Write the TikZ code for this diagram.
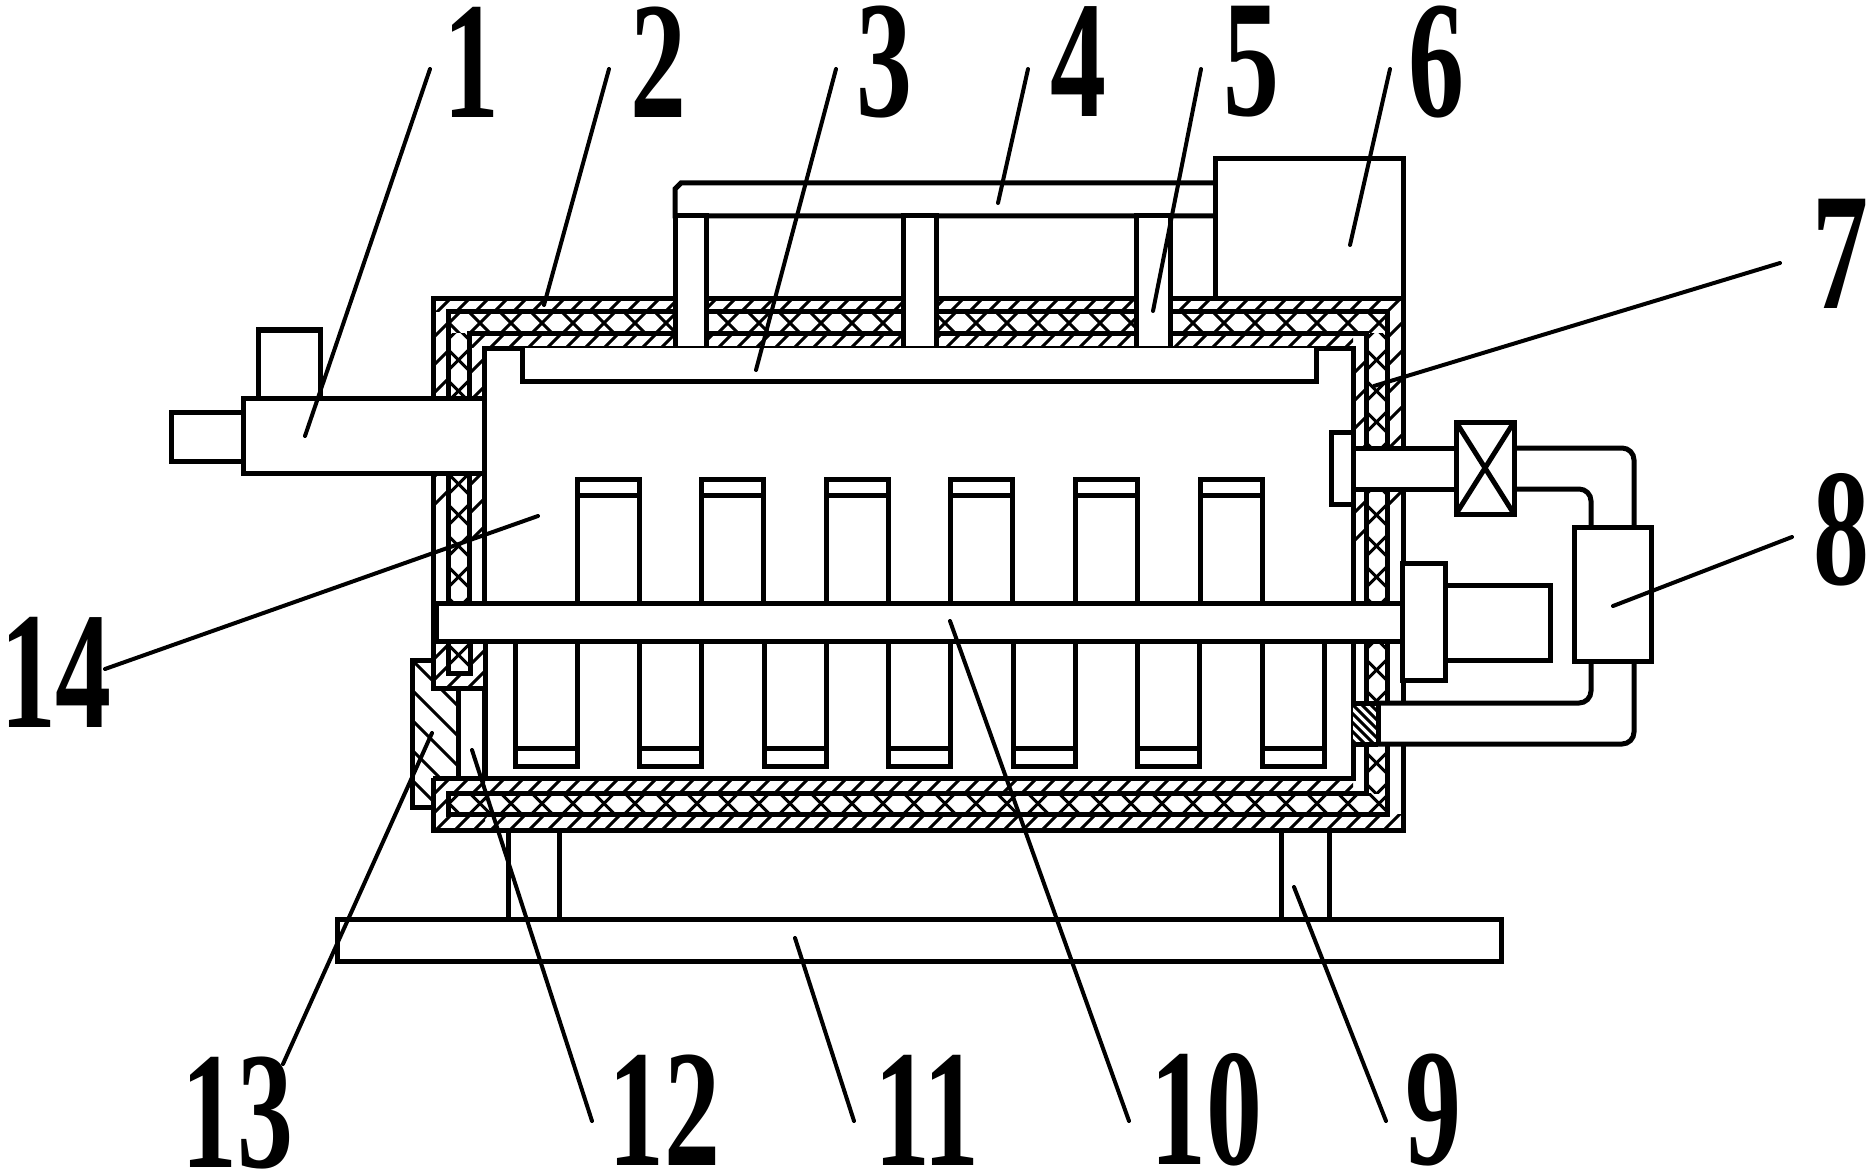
\documentclass[tikz,border=0pt]{standalone}
\usepackage{fontspec}
\setmainfont{Liberation Serif}
\newcommand{\hatchA}[5]{%
  \begin{scope}
    \clip (#1,#2) rectangle (#3,#4);
    \fill[white] (#1,#2) rectangle (#3,#4);
    \foreach \k in {0,...,110}{
      \draw[hatchline] ({#1+#5*\k},{#2-2}) -- ({#1+#5*\k-200},{#2+198});
    }
    \foreach \k in {1,...,30}{
      \draw[hatchline] ({#1},{#2+#5*\k}) -- ({#1-200},{#2+#5*\k+200});
    }
  \end{scope}}
\newcommand{\hatchB}[5]{%
  \begin{scope}
    \clip (#1,#2) rectangle (#3,#4);
    \fill[white] (#1,#2) rectangle (#3,#4);
    \foreach \k in {-20,...,20}{
      \draw[hatchline] ({#1+#5*\k-200},{#2-200}) -- ({#1+#5*\k+200},{#2+200});
    }
  \end{scope}}
\newcommand{\crossbox}[6]{%
  \begin{scope}
    \clip (#1,#2) rectangle (#3,#4);
    \fill[white] (#1,#2) rectangle (#3,#4);
    \foreach \k in {-32,...,32}{
      \draw[hatchline] ({#5+31*\k-600},{#6-600}) -- ({#5+31*\k+600},{#6+600});
      \draw[hatchline] ({#5+31*\k-600},{#6+600}) -- ({#5+31*\k+600},{#6-600});
    }
  \end{scope}}
\newcommand{\dg}[1]{\scalebox{0.67}[1]{#1}}
\tikzset{
  thick line/.style={line width=2.5pt,line join=miter},
  hatchline/.style={line width=1.5pt},
  body/.style={thick line,draw=black,fill=white},
  leader/.style={line width=2pt,draw=black,line cap=round},
  lbl/.style={inner sep=0pt,font=\fontsize{83.5}{84}\selectfont\bfseries}
}
\begin{document}
\begin{tikzpicture}[x=0.5pt,y=-0.5pt]
\useasboundingbox (0,0) rectangle (1871,1176);
\fill[white] (0,0) rectangle (1871,1176);

% base and legs
\draw[body] (337,919) rectangle (1501,961);
\draw[body] (508,830) rectangle (559,919);
\draw[body] (1281,830) rectangle (1329,919);

% shell: outer hatched layer
\hatchA{433}{299}{1403}{312}{19}
\hatchA{433}{814}{1403}{830}{19}
\hatchA{433}{312}{448}{814}{28}
\hatchA{1387}{312}{1403}{814}{28}
% shell: insulating cross layer
\crossbox{448}{312}{1387}{333}{480}{323}
\crossbox{448}{793}{1387}{814}{480}{803.5}
\crossbox{448}{333}{469}{793}{458.5}{360}
\crossbox{1366}{333}{1387}{793}{1376.5}{360}
% shell: inner hatched layer
\hatchA{469}{333}{1353}{348}{19}
\hatchA{469}{778}{1353}{793}{19}
\hatchA{469}{348}{484}{778}{28}
\hatchA{1353}{348}{1366}{778}{28}
\draw[thick line] (433,299) rectangle (1403,830);
\draw[thick line] (448,312) rectangle (1387,814);
\draw[thick line] (469,333) rectangle (1366,793);
% chamber
\draw[body] (484,348) rectangle (1353,778);

% door region at lower left
\fill[white] (405,641) rectangle (482,778);
\hatchB{412}{660}{458}{807}{30}
\draw[thick line] (433,660) -- (412,660) -- (412,807) -- (433,807);
\draw[thick line] (458,688) -- (458,778);
\hatchA{433}{641}{485}{688}{21}
\crossbox{448}{641}{470}{673}{458.5}{655}
\draw[thick line] (448,641) -- (448,673) -- (470,673) -- (470,641);
\draw[thick line] (433,641) -- (433,688) -- (485,688);
\draw[thick line] (485,641) -- (485,778);
\hatchA{433}{778}{485}{830}{19}
\crossbox{448}{793}{485}{814}{480}{803.5}
\draw[thick line] (433,778) -- (485,778);
\draw[thick line] (433,778) -- (433,830) -- (485,830);
\draw[thick line] (485,793) -- (448,793) -- (448,814) -- (485,814);

% top drive: bar, supports, block
\fill[white] (675,183) rectangle (1215,216);
\draw[thick line] (1215,183) -- (681,183) -- (675,189) -- (675,216) -- (1215,216);
\draw[body] (675,216) rectangle (706,348);
\draw[body] (903,216) rectangle (936,348);
\draw[body] (1136,216) rectangle (1170,348);
\draw[body] (1215,159) rectangle (1403,299);
\draw[body] (522,348) -- (522,381) -- (1316,381) -- (1316,348);

% lower paddles
\foreach \x in {515,639.5,764,888.5,1013,1137.5,1262}{
  \draw[body] (\x,641) rectangle (\x+62,766);
  \draw[thick line] (\x,748) -- (\x+62,748);
}
% upper paddles
\foreach \x in {577,701.5,826,950.5,1075,1200}{
  \draw[body] (\x,479) rectangle (\x+62,603);
  \draw[thick line] (\x,495) -- (\x+62,495);
}
% shaft
\fill[white] (436,603) rectangle (1400,641);
\draw[thick line] (1400,603) -- (436,603) -- (436,641) -- (1400,641);

% inlet
\draw[body] (171,412) rectangle (243,461);
\draw[body] (258,330) rectangle (320,400);
\fill[white] (243,398) rectangle (482,473);
\draw[thick line] (484,398) -- (243,398) -- (243,473) -- (484,473);

% outlet pipe through wall
\fill[white] (1355,450) rectangle (1456,487);
\draw[thick line] (1353,448) -- (1456,448);
\draw[thick line] (1353,489) -- (1456,489);
\draw[body] (1353,432) -- (1331,432) -- (1331,504) -- (1353,504);
\draw[thick line] (1353,432) -- (1353,504);

% return pipe
\fill[white] (1378,705) rectangle (1408,742);
\hatchB{1353}{705}{1378}{742}{9}
\fill[white] (1366,742) rectangle (1380,744);
\draw[thick line,rounded corners=6pt] (1378,703) -- (1591,703) -- (1591,661);
\draw[thick line,rounded corners=6pt] (1378,744) -- (1634,744) -- (1634,661);
\draw[thick line] (1378,703) -- (1378,744);
\draw[thick line] (1353,703) -- (1378,703);
\draw[thick line] (1353,744) -- (1378,744);
\draw[thick line,rounded corners=6pt] (1514,448) -- (1634,448) -- (1634,527);
\draw[thick line,rounded corners=6pt] (1514,489) -- (1591,489) -- (1591,527);

% valve
\draw[body] (1456,422) rectangle (1514,514);
\draw[thick line] (1456,422) -- (1514,514);
\draw[thick line] (1456,514) -- (1514,422);

% controller box
\draw[body] (1574,527) rectangle (1651,661);

% motor
\draw[body] (1445,585) rectangle (1550,660);
\draw[body] (1402,563) rectangle (1445,680);

% labels
\node[lbl] (n1) at (471,62) {\dg{1}};
\node[lbl] (n2) at (658,62) {\dg{2}};
\node[lbl] (n3) at (884,62) {\dg{3}};
\node[lbl] (n4) at (1078,62) {\dg{4}};
\node[lbl] (n5) at (1251,62) {\dg{5}};
\node[lbl] (n6) at (1436,62) {\dg{6}};
\node[lbl] (n7) at (1840,254) {\dg{7}};
\node[lbl] (n8) at (1841,530) {\dg{8}};
\node[lbl] (n9) at (1433,1110) {\dg{9}};
\node[lbl] (n10) at (1206,1110) {\dg{10}};
\node[lbl] (n11) at (927,1110) {\dg{11}};
\node[lbl] (n12) at (664,1110) {\dg{12}};
\node[lbl] (n13) at (237,1113) {\dg{13}};
\node[lbl] (n14) at (56,672) {\dg{14}};

% leader ends
\coordinate (a1) at (430,69);   \coordinate (b1) at (305,436);
\coordinate (a2) at (609,69);   \coordinate (b2) at (544,305);
\coordinate (a3) at (836,69);   \coordinate (b3) at (756,370);
\coordinate (a4) at (1028,69);  \coordinate (b4) at (998,203);
\coordinate (a5) at (1201,69);  \coordinate (b5) at (1153,311);
\coordinate (a6) at (1390,69);  \coordinate (b6) at (1350,245);
\coordinate (a7) at (1780,263); \coordinate (b7) at (1374,386);
\coordinate (a8) at (1792,537); \coordinate (b8) at (1613,606);
\coordinate (a9) at (1386,1121);\coordinate (b9) at (1294,887);
\coordinate (a10) at (1129,1121);\coordinate (b10) at (950,621);
\coordinate (a11) at (854,1121);\coordinate (b11) at (795,938);
\coordinate (a12) at (592,1121);\coordinate (b12) at (472,750);
\coordinate (a13) at (283,1064);\coordinate (b13) at (432,733);
\coordinate (a14) at (105,669); \coordinate (b14) at (538,516);
\foreach \i in {1,...,14}{ \draw[leader] (a\i) -- (b\i); }
\end{tikzpicture}
\end{document}
